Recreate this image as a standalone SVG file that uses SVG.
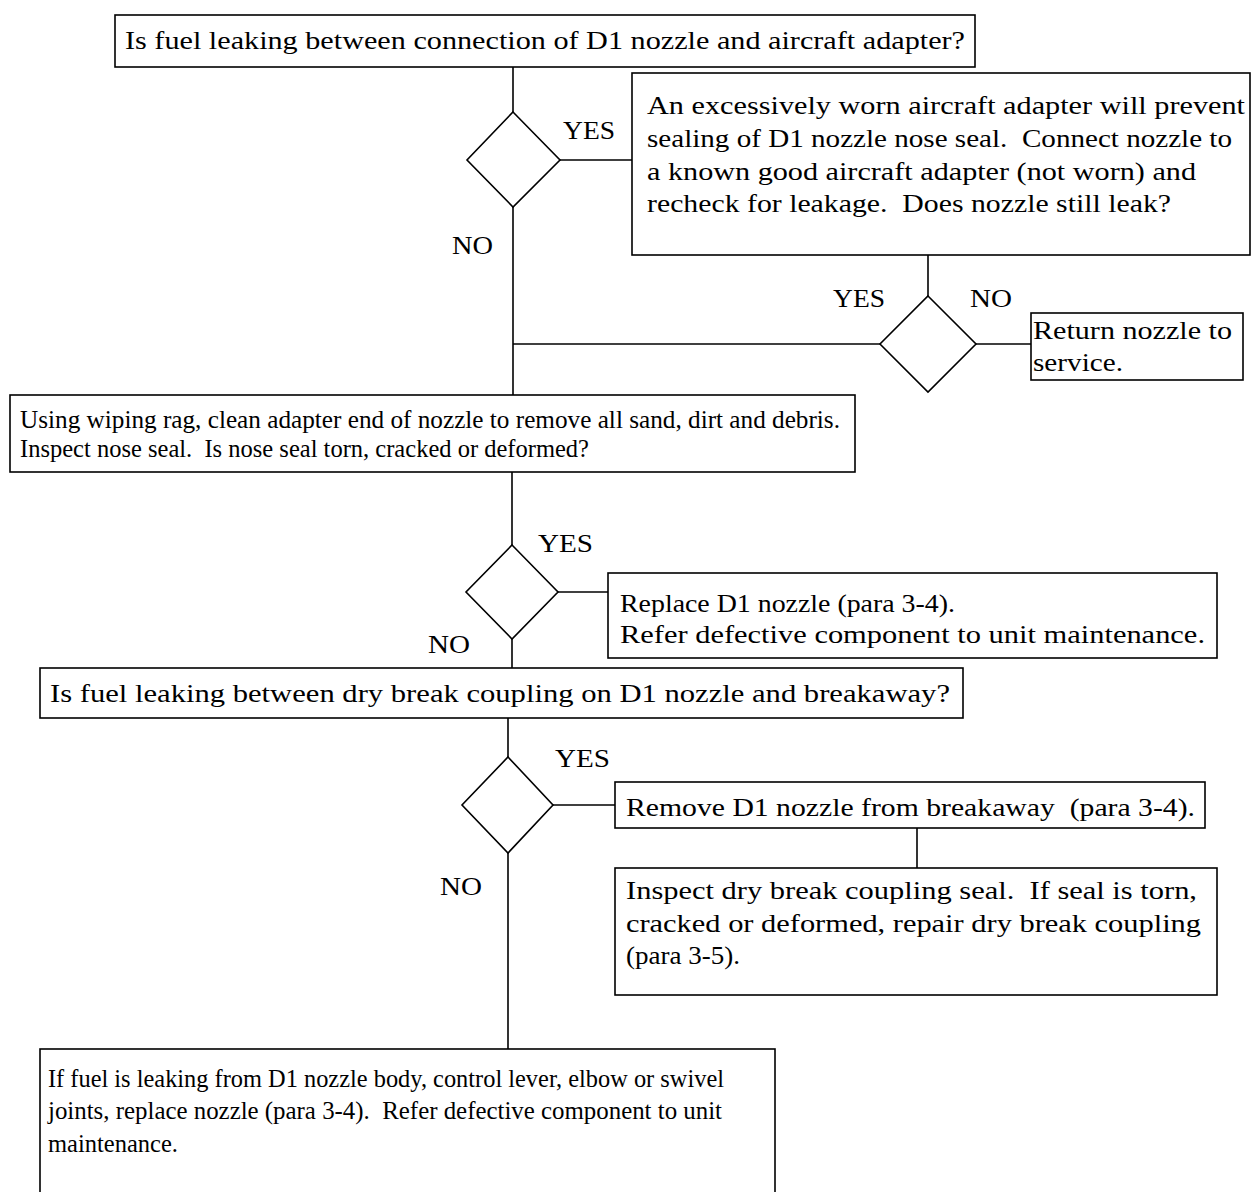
<svg xmlns="http://www.w3.org/2000/svg" width="1255" height="1192" viewBox="0 0 1255 1192">
<style>
.box{fill:#fff;stroke:#000;stroke-width:1.6}
.dia{fill:#fff;stroke:#000;stroke-width:1.6}
.ln{fill:none;stroke:#000;stroke-width:1.6}
text{font-family:"Liberation Serif","DejaVu Serif",serif;font-size:26px;fill:#000;white-space:pre}
</style>
<rect width="1255" height="1192" fill="#fff"/>
<g id="connectors">
<path class="ln" d="M513,67 V112"/>
<path class="ln" d="M560,160 H632"/>
<path class="ln" d="M513,207 V395"/>
<path class="ln" d="M928,255 V296"/>
<path class="ln" d="M513,344 H880"/>
<path class="ln" d="M976,344 H1031"/>
<path class="ln" d="M512,472 V545"/>
<path class="ln" d="M558,592 H608"/>
<path class="ln" d="M512,639 V668"/>
<path class="ln" d="M508,718 V757"/>
<path class="ln" d="M553,805 H615"/>
<path class="ln" d="M917,828 V868"/>
<path class="ln" d="M508,853 V1049"/>
</g>
<g id="n1">
<rect class="box" x="115" y="15" width="860" height="52"/>
<text x="125" y="49" textLength="840" lengthAdjust="spacingAndGlyphs">Is fuel leaking between connection of D1 nozzle and aircraft adapter?</text>
</g>
<g id="d1">
<polygon class="dia" points="513,112 560,160 513,207 467,160"/>
<text x="563" y="139" textLength="52" lengthAdjust="spacingAndGlyphs">YES</text>
<text x="452" y="254" textLength="41" lengthAdjust="spacingAndGlyphs">NO</text>
</g>
<g id="n2">
<rect class="box" x="632" y="73" width="618" height="182"/>
<text x="647" y="114" textLength="598" lengthAdjust="spacingAndGlyphs">An excessively worn aircraft adapter will prevent</text>
<text x="647" y="147" textLength="585" lengthAdjust="spacingAndGlyphs">sealing of D1 nozzle nose seal.  Connect nozzle to</text>
<text x="647" y="180" textLength="549" lengthAdjust="spacingAndGlyphs">a known good aircraft adapter (not worn) and</text>
<text x="647" y="212" textLength="524" lengthAdjust="spacingAndGlyphs">recheck for leakage.  Does nozzle still leak?</text>
</g>
<g id="d2">
<polygon class="dia" points="928,296 976,344 928,392 880,344"/>
<text x="833" y="307" textLength="52" lengthAdjust="spacingAndGlyphs">YES</text>
<text x="970" y="307" textLength="42" lengthAdjust="spacingAndGlyphs">NO</text>
</g>
<g id="n3">
<rect class="box" x="1031" y="313" width="212" height="67"/>
<text x="1033" y="339" textLength="199" lengthAdjust="spacingAndGlyphs">Return nozzle to</text>
<text x="1033" y="371" textLength="90" lengthAdjust="spacingAndGlyphs">service.</text>
</g>
<g id="n4">
<rect class="box" x="10" y="395" width="845" height="77"/>
<text x="20" y="428" textLength="820" lengthAdjust="spacingAndGlyphs">Using wiping rag, clean adapter end of nozzle to remove all sand, dirt and debris.</text>
<text x="20" y="457" textLength="569" lengthAdjust="spacingAndGlyphs">Inspect nose seal.  Is nose seal torn, cracked or deformed?</text>
</g>
<g id="d3">
<polygon class="dia" points="512,545 558,592 512,639 466,592"/>
<text x="538" y="552" textLength="55" lengthAdjust="spacingAndGlyphs">YES</text>
<text x="428" y="653" textLength="42" lengthAdjust="spacingAndGlyphs">NO</text>
</g>
<g id="n5">
<rect class="box" x="608" y="573" width="609" height="85"/>
<text x="620" y="612" textLength="335" lengthAdjust="spacingAndGlyphs">Replace D1 nozzle (para 3-4).</text>
<text x="620" y="643" textLength="585" lengthAdjust="spacingAndGlyphs">Refer defective component to unit maintenance.</text>
</g>
<g id="n6">
<rect class="box" x="40" y="668" width="923" height="50"/>
<text x="50" y="702" textLength="900" lengthAdjust="spacingAndGlyphs">Is fuel leaking between dry break coupling on D1 nozzle and breakaway?</text>
</g>
<g id="d4">
<polygon class="dia" points="508,757 553,805 508,853 462,805"/>
<text x="555" y="767" textLength="55" lengthAdjust="spacingAndGlyphs">YES</text>
<text x="440" y="895" textLength="42" lengthAdjust="spacingAndGlyphs">NO</text>
</g>
<g id="n7">
<rect class="box" x="615" y="782" width="590" height="46"/>
<text x="626" y="816" textLength="569" lengthAdjust="spacingAndGlyphs">Remove D1 nozzle from breakaway  (para 3-4).</text>
</g>
<g id="n8">
<rect class="box" x="615" y="868" width="602" height="127"/>
<text x="626" y="899" textLength="571" lengthAdjust="spacingAndGlyphs">Inspect dry break coupling seal.  If seal is torn,</text>
<text x="626" y="932" textLength="575" lengthAdjust="spacingAndGlyphs">cracked or deformed, repair dry break coupling</text>
<text x="626" y="964" textLength="114" lengthAdjust="spacingAndGlyphs">(para 3-5).</text>
</g>
<g id="n9">
<rect class="box" x="40" y="1049" width="735" height="160"/>
<text x="48" y="1087" textLength="676" lengthAdjust="spacingAndGlyphs">If fuel is leaking from D1 nozzle body, control lever, elbow or swivel</text>
<text x="48" y="1119" textLength="674" lengthAdjust="spacingAndGlyphs">joints, replace nozzle (para 3-4).  Refer defective component to unit</text>
<text x="48" y="1152" textLength="130" lengthAdjust="spacingAndGlyphs">maintenance.</text>
</g>
</svg>
